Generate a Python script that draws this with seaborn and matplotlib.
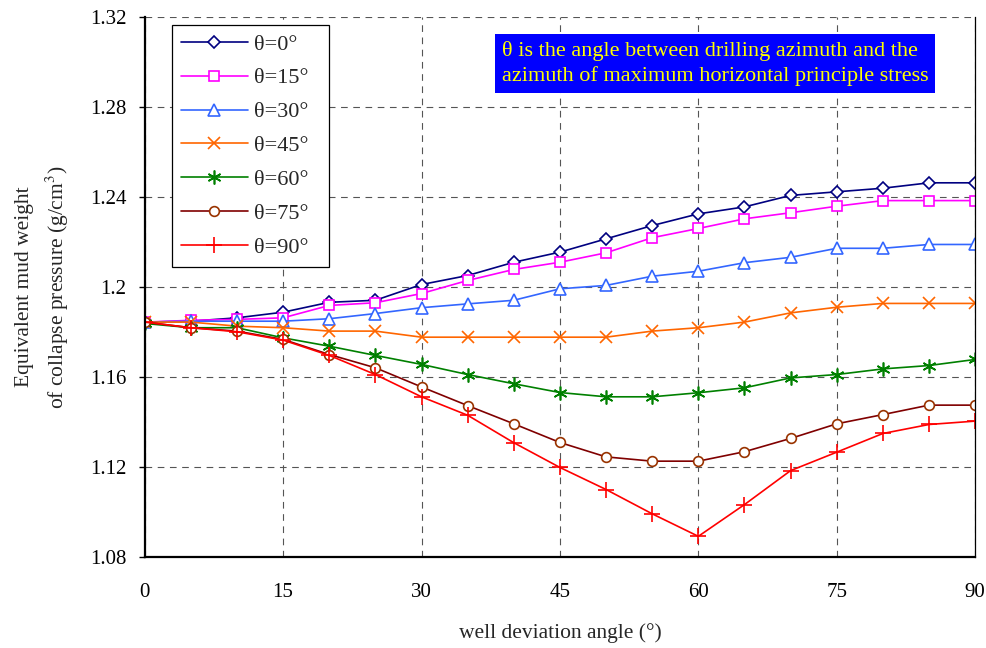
import matplotlib
matplotlib.use("Agg")
import matplotlib.pyplot as plt
import seaborn as sns
import pandas as pd
from matplotlib.ticker import FuncFormatter

# well deviation angle (deg)
angles = [0, 5, 10, 15, 20, 25, 30, 35, 40, 45, 50, 55, 60, 65, 70, 75, 80, 85, 90]

theta_0 = [1.1844, 1.1848, 1.1863, 1.1888, 1.1932, 1.1941, 1.2011, 1.2051, 1.2110, 1.2155,
           1.2214, 1.2273, 1.2325, 1.2356, 1.2407, 1.2423, 1.2439, 1.2463, 1.2463]
theta_15 = [1.1844, 1.1852, 1.1856, 1.1863, 1.1918, 1.1930, 1.1971, 1.2029, 1.2078, 1.2110,
            1.2152, 1.2219, 1.2260, 1.2303, 1.2330, 1.2359, 1.2384, 1.2384, 1.2384]
theta_30 = [1.1844, 1.1848, 1.1848, 1.1848, 1.1859, 1.1882, 1.1908, 1.1925, 1.1941, 1.1992,
            1.2007, 1.2048, 1.2070, 1.2108, 1.2132, 1.2172, 1.2172, 1.2189, 1.2189]
theta_45 = [1.1844, 1.1844, 1.1826, 1.1819, 1.1804, 1.1804, 1.1777, 1.1777, 1.1777, 1.1777,
            1.1777, 1.1804, 1.1819, 1.1844, 1.1885, 1.1910, 1.1927, 1.1927, 1.1927]
theta_60 = [1.1838, 1.1819, 1.1819, 1.1774, 1.1737, 1.1696, 1.1656, 1.1611, 1.1570, 1.1531,
            1.1512, 1.1512, 1.1530, 1.1552, 1.1596, 1.1611, 1.1636, 1.1651, 1.1678]
theta_75 = [1.1844, 1.1819, 1.1804, 1.1767, 1.1700, 1.1641, 1.1556, 1.1473, 1.1392, 1.1309,
            1.1245, 1.1226, 1.1226, 1.1268, 1.1327, 1.1392, 1.1433, 1.1475, 1.1475]
theta_90 = [1.1844, 1.1819, 1.1801, 1.1764, 1.1696, 1.1611, 1.1512, 1.1430, 1.1308, 1.1198,
            1.1100, 1.0992, 1.0892, 1.1033, 1.1184, 1.1266, 1.1349, 1.1389, 1.1404]

labels = ["θ=0°", "θ=15°", "θ=30°", "θ=45°", "θ=60°", "θ=75°", "θ=90°"]
series = [theta_0, theta_15, theta_30, theta_45, theta_60, theta_75, theta_90]

line_colors = ["#000080", "#FF00FF", "#3366FF", "#FF6600", "#008000", "#800000", "#FF0000"]
edge_colors = ["#000080", "#FF00FF", "#3366FF", "#FF6600", "#008000", "#993300", "#FF0000"]
markers = ["D", "s", "^", "x", (6, 2, 0), "o", "+"]
msizes = [6, 7, 8, 8, 10, 7, 11]

sns.set_theme(style="white")
plt.rcParams["font.family"] = ["Liberation Serif", "DejaVu Serif"]
plt.rcParams["mathtext.fontset"] = "stix"

fig = plt.figure(figsize=(9.87, 6.48), dpi=100)
ax = fig.add_axes([0.1466, 0.1404, 0.8414, 0.8334])

for lab, vals, lc, ec, mk, ms in zip(labels, series, line_colors, edge_colors, markers, msizes):
    df = pd.DataFrame({"angle": angles, "value": vals})
    # trailing spaces just widen the legend box a little on the right
    sns.lineplot(data=df, x="angle", y="value", ax=ax, color=lc, marker=mk,
                 markersize=ms, markerfacecolor="white", markeredgecolor=ec,
                 markeredgewidth=1.2, linewidth=1.2, label=lab + "  ")

ax.set_xlim(0, 90)
ax.set_ylim(1.08, 1.32)
ax.set_xticks([0, 15, 30, 45, 60, 75, 90])
ax.set_yticks([1.08, 1.12, 1.16, 1.2, 1.24, 1.28, 1.32])
ax.yaxis.set_major_formatter(FuncFormatter(lambda v, p: f"{v:.2f}".rstrip("0")))
ax.tick_params(axis="both", labelsize=15, colors="black", width=1.0)
ax.tick_params(axis="x", direction="in", length=4, pad=19)
ax.tick_params(axis="y", direction="out", length=4, pad=9, left=True)
ax.grid(True, linestyle=(0, (6, 5)), color="#555555", linewidth=0.8)

for side in ["left", "bottom"]:
    ax.spines[side].set_color("black")
    ax.spines[side].set_linewidth(1.6)
ax.spines["top"].set_visible(False)
ax.spines["right"].set_color("black")
ax.spines["right"].set_linewidth(0.9)

ax.set_xlabel("well deviation angle (°)", fontsize=15.5, labelpad=15)
ax.set_ylabel("Equivalent mud weight\nof collapse pressure (g/cm$^3$)", fontsize=15.5,
              labelpad=14, linespacing=1.45)

leg = ax.legend(loc="upper left", bbox_to_anchor=(0.033, 0.985), borderaxespad=0,
                fontsize=16, frameon=True, fancybox=False, edgecolor="black", framealpha=1,
                handlelength=3.0, borderpad=0.4, labelspacing=0.6, handletextpad=0.3)
leg.get_frame().set_linewidth(0.9)

ax.text(0.43, 0.956, "θ is the angle between drilling azimuth and the\n"
        "azimuth of maximum horizontal principle stress",
        transform=ax.transAxes, ha="left", va="top", fontsize=16, color="#FFFF00",
        linespacing=1.35,
        bbox=dict(boxstyle="square,pad=0.3", facecolor="#0000FF", edgecolor="none"))

fig.savefig("out.png", dpi=100)
